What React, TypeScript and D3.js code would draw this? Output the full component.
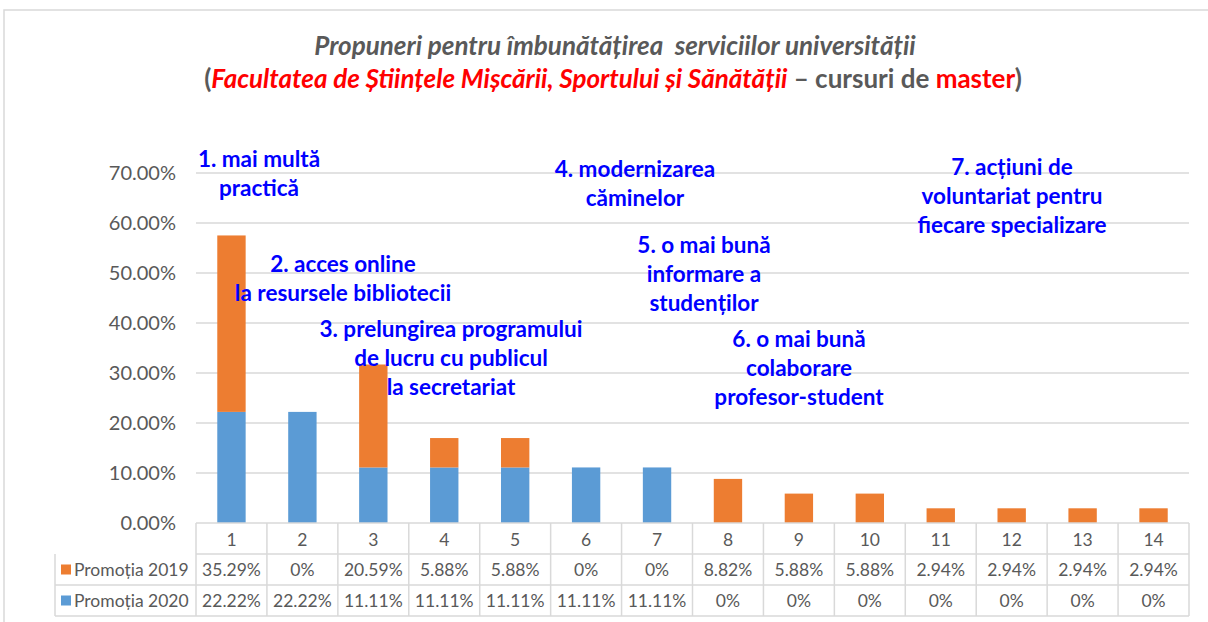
import React from "react";
import * as d3 from "d3";

const categories = ["1", "2", "3", "4", "5", "6", "7", "8", "9", "10", "11", "12", "13", "14"];
const promotia2019 = [35.29, 0, 20.59, 5.88, 5.88, 0, 0, 8.82, 5.88, 5.88, 2.94, 2.94, 2.94, 2.94];
const promotia2020 = [22.22, 22.22, 11.11, 11.11, 11.11, 11.11, 11.11, 0, 0, 0, 0, 0, 0, 0];
const yTicks = [0, 10, 20, 30, 40, 50, 60, 70];
const seriesNames = ["Promoția 2019", "Promoția 2020"];

const annotations = [
  ["1. mai multă", "practică"],
  ["2. acces online", "la resursele bibliotecii"],
  ["3. prelungirea programului", "de lucru cu publicul", "la secretariat"],
  ["4. modernizarea", "căminelor"],
  ["5. o mai bună", "informare a", "studenților"],
  ["6. o mai bună", "colaborare", "profesor-student"],
  ["7. acțiuni de", "voluntariat pentru", "fiecare specializare"],
];
// anchor (center x, first baseline y) for each annotation block, in pixels
const annotationAnchors: [number, number][] = [
  [259, 167],
  [343, 272],
  [451, 337],
  [635, 177],
  [704, 253],
  [799, 347],
  [1012, 175],
];

const ORANGE = "#ED7D31";
const BLUE = "#5B9BD5";
const GRID = "#D9D9D9";
const TEXT = "#595959";
const FONT = "Lato, 'Open Sans', sans-serif";

export default function App() {
  const W = 1208, H = 622;
  const left = 196, right = 1189, top = 173, bottom = 523;
  const x = d3.scaleBand<string>().domain(categories).range([left, right]).paddingInner(0.6).paddingOuter(0.3);
  const xCell = d3.scaleBand<string>().domain(categories).range([left, right]);
  const y = d3.scaleLinear().domain([0, 70]).range([bottom, top]);

  const stackData = categories.map((c, i) => ({ c, p2020: promotia2020[i], p2019: promotia2019[i] }));
  const stack = d3.stack<any>().keys(["p2020", "p2019"])(stackData);
  const colors: Record<string, string> = { p2020: BLUE, p2019: ORANGE };

  const rowH = 31;
  const tableLeft = 55;
  const rows = [
    { name: seriesNames[0], color: ORANGE, values: promotia2019 },
    { name: seriesNames[1], color: BLUE, values: promotia2020 },
  ];
  const fmt = (v: number) => (v === 0 ? "0%" : v.toFixed(2) + "%");

  return (
    <div style={{ position: "absolute", left: 0, top: 0 }}>
      <svg width={W} height={H} style={{ display: "block", background: "#fff" }}>
        <rect x={4} y={10} width={1215} height={620} fill="none" stroke={GRID} strokeWidth={1.5} />
        {/* Title */}
        <text x={615} y={55} textAnchor="middle" fontFamily={FONT} fontSize={26} fontWeight="bold" fontStyle="italic" fill={TEXT} style={{ whiteSpace: "pre" }}>
          {"Propuneri pentru îmbunătățirea  serviciilor universității"}
        </text>
        <text x={613} y={88} textAnchor="middle" fontFamily={FONT} fontSize={26} fontWeight="bold" fill={TEXT} style={{ whiteSpace: "pre" }}>
          <tspan>(</tspan>
          <tspan fill="#FF0000" fontStyle="italic">Facultatea de Științele Mișcării, Sportului și Sănătății</tspan>
          <tspan>{" – cursuri de "}</tspan>
          <tspan fill="#FF0000">master</tspan>
          <tspan>)</tspan>
        </text>

        {/* gridlines and y labels */}
        {yTicks.map((t) => (
          <g key={t}>
            {t > 0 && <line x1={left} x2={right} y1={y(t)} y2={y(t)} stroke={GRID} strokeWidth={1.3} />}
            <text x={176} y={y(t)} dy="0.35em" textAnchor="end" fontFamily={FONT} fontSize={20} fill={TEXT}>
              {t.toFixed(2)}%
            </text>
          </g>
        ))}

        {/* bars */}
        {stack.map((s) => (
          <g key={s.key} fill={colors[s.key]}>
            {s.map((d, i) =>
              d[1] - d[0] > 0 ? (
                <rect key={i} x={x(categories[i])} width={x.bandwidth()} y={y(d[1])} height={y(d[0]) - y(d[1])} />
              ) : null
            )}
          </g>
        ))}

        {/* annotations */}
        {annotations.map((lines, k) => (
          <text key={k} x={annotationAnchors[k][0]} y={annotationAnchors[k][1]} textAnchor="middle" fontFamily={FONT} fontSize={22.5} fontWeight="bold" fill="#0000FF">
            {lines.map((l, j) => (
              <tspan key={j} x={annotationAnchors[k][0]} dy={j === 0 ? 0 : 29}>{l}</tspan>
            ))}
          </text>
        ))}

        {/* data table */}
        <g fontFamily={FONT} fontSize={17.5} fill={TEXT}>
          <line x1={left} x2={right} y1={bottom} y2={bottom} stroke={GRID} strokeWidth={1.5} />
          {categories.map((c) => (
            <text key={c} x={(xCell(c) as number) + xCell.bandwidth() / 2} y={bottom + rowH / 2 + 1} dy="0.35em" textAnchor="middle">
              {c}
            </text>
          ))}
          {[0, 1, 2].map((r) => (
            <line key={r} x1={r === 0 ? left : tableLeft} x2={right} y1={bottom + rowH * (r + 1)} y2={bottom + rowH * (r + 1)} stroke={GRID} strokeWidth={1.5} />
          ))}
          {categories.map((c) => (
            <line key={"v" + c} x1={xCell(c)} x2={xCell(c)} y1={bottom} y2={bottom + rowH * 3} stroke={GRID} strokeWidth={1.5} />
          ))}
          <line x1={right} x2={right} y1={bottom} y2={bottom + rowH * 3} stroke={GRID} strokeWidth={1.5} />
          <line x1={tableLeft} x2={tableLeft} y1={bottom + rowH} y2={bottom + rowH * 3} stroke={GRID} strokeWidth={1.5} />
          {rows.map((row, r) => {
            const cy = bottom + rowH * (r + 1) + rowH / 2;
            return (
              <g key={row.name}>
                <rect x={61} y={cy - 5} width={10} height={10} fill={row.color} />
                <text x={74} y={cy} dy="0.35em">{row.name}</text>
                {row.values.map((v, i) => (
                  <text key={i} x={(xCell(categories[i]) as number) + xCell.bandwidth() / 2} y={cy} dy="0.35em" textAnchor="middle">
                    {fmt(v)}
                  </text>
                ))}
              </g>
            );
          })}
        </g>
      </svg>
    </div>
  );
}
